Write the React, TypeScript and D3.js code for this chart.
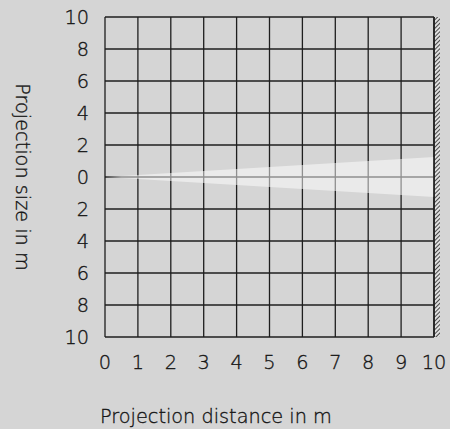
import * as d3 from 'd3';
import React, { useEffect, useRef } from 'react';

// ticks along the projection distance (m)
const distanceTicks = [0, 1, 2, 3, 4, 5, 6, 7, 8, 9, 10];
// projection size ticks (m), shown as absolute values
const sizeTicks = [10, 8, 6, 4, 2, 0, -2, -4, -6, -8, -10];
// beam: distance (m) and half image size (m)
const beamDistance = [0, 10];
const beamHalfSize = [0, 1.25];

const xTitle = 'Projection distance in m';
const yTitle = 'Projection size in m';

const App: React.FC = () => {
  const ref = useRef<SVGSVGElement | null>(null);

  useEffect(() => {
    document.body.style.margin = '0';
    const width = 450;
    const height = 429;
    const font = '"DejaVu Sans", sans-serif';
    const weight = 200;
    const size = 19.3;

    const svg = d3.select(ref.current).attr('width', width).attr('height', height);
    svg.selectAll('*').remove();

    svg.append('rect').attr('width', width).attr('height', height).attr('fill', '#d5d5d5');

    const x = d3.scaleLinear().domain([0, 10]).range([105, 434]);
    const y = d3.scaleLinear().domain([10, -10]).range([17, 337]);

    const defs = svg.append('defs');
    const pat = defs.append('pattern')
      .attr('id', 'hatch')
      .attr('patternUnits', 'userSpaceOnUse')
      .attr('width', 3)
      .attr('height', 3)
      .attr('patternTransform', 'rotate(45)');
    pat.append('rect').attr('width', 3).attr('height', 3).attr('fill', '#e0e0e0');
    pat.append('line').attr('x1', 0).attr('y1', 0).attr('x2', 0).attr('y2', 3)
      .attr('stroke', '#222').attr('stroke-width', 1.6);

    // wall
    svg.append('rect')
      .attr('x', x(10)).attr('y', y(10))
      .attr('width', 6).attr('height', y(-10) - y(10))
      .attr('fill', 'url(#hatch)');

    const grid = svg.append('g').attr('stroke', '#1e1e1e').attr('stroke-width', 1.3);
    grid.selectAll('line.v')
      .data(distanceTicks)
      .enter()
      .append('line')
      .attr('x1', (d) => x(d)).attr('x2', (d) => x(d))
      .attr('y1', y(10)).attr('y2', y(-10));
    grid.selectAll('line.h')
      .data(sizeTicks)
      .enter()
      .append('line')
      .attr('y1', (d) => y(d)).attr('y2', (d) => y(d))
      .attr('x1', x(0)).attr('x2', x(10));

    // beam
    const pts: [number, number][] = [
      ...beamDistance.map((d, i) => [x(d), y(beamHalfSize[i])] as [number, number]),
      ...beamDistance.slice().reverse().map((d, i) => {
        const j = beamDistance.length - 1 - i;
        return [x(d), y(-beamHalfSize[j])] as [number, number];
      }),
    ];
    svg.append('path')
      .attr('d', d3.line()(pts) + 'Z')
      .attr('fill', '#ffffff')
      .attr('fill-opacity', 0.5);

    svg.append('line')
      .attr('x1', x(10)).attr('x2', x(10))
      .attr('y1', y(10)).attr('y2', y(-10))
      .attr('stroke', '#1e1e1e').attr('stroke-width', 1.6);

    const label = (sel: d3.Selection<SVGTextElement, any, any, any>) =>
      sel.attr('font-family', font)
        .attr('font-size', size)
        .attr('font-weight', weight)
        .attr('fill', '#161616')
        .attr('stroke', '#161616')
        .attr('stroke-width', 0.35);

    // tick labels
    svg.selectAll('text.yt')
      .data(sizeTicks)
      .enter()
      .append('text')
      .attr('x', 89)
      .attr('y', (d) => y(d))
      .attr('dy', '0.36em')
      .attr('text-anchor', 'end')
      .call(label)
      .text((d) => Math.abs(d));

    svg.selectAll('text.xt')
      .data(distanceTicks)
      .enter()
      .append('text')
      .attr('x', (d) => x(d))
      .attr('y', 369)
      .attr('text-anchor', 'middle')
      .call(label)
      .text((d) => d);

    svg.append('text')
      .attr('x', 100).attr('y', 423)
      .call(label)
      .text(xTitle);

    svg.append('text')
      .attr('transform', `translate(16,${y(0)}) rotate(90)`)
      .attr('text-anchor', 'middle')
      .call(label)
      .text(yTitle);
  }, []);

  return <svg ref={ref} style={{ display: 'block' }}></svg>;
};

export default App;
